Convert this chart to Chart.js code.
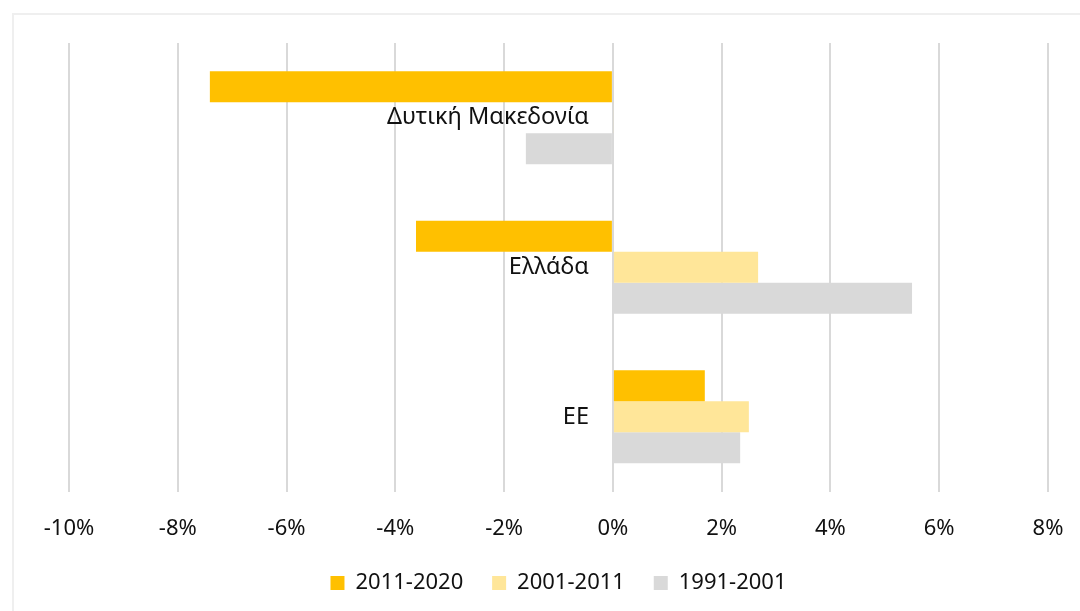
<!DOCTYPE html>
<html>
<head>
<meta charset="utf-8">
<script src="https://cdn.jsdelivr.net/npm/chart.js@4.4.1/dist/chart.umd.min.js"></script>
<style>
  html, body { margin: 0; padding: 0; background: #fff; width: 1080px; height: 611px; overflow: hidden; }
  #frame { position: absolute; left: 12px; top: 13px; width: 1080px; height: 610px; border: 2px solid #efefef; }
  #wrap { position: absolute; left: 0; top: 0; width: 1080px; height: 611px; }
</style>
</head>
<body>
<div id="frame"></div>
<div id="wrap"><canvas id="chartBarView"></canvas></div>
<script>
// regions and periods
const regions = ["Δυτική Μακεδονία", "Ελλάδα", "ΕΕ"];
const periods = ["2011-2020", "2001-2011", "1991-2001"];

// change in % per period
const change2011 = [-7.41, -3.62, 1.69];
const change2001 = [0.02, 2.67, 2.50];
const change1991 = [-1.60, 5.50, 2.34];

const xTicks = [-10, -8, -6, -4, -2, 0, 2, 4, 6, 8];

const colors = ["#FFC000", "#FFE699", "#D9D9D9"];
const font = "'Noto Sans', 'Open Sans', sans-serif";

const data1 = {
  labels: regions,
  datasets: [
    { label: periods[0], data: change2011, backgroundColor: colors[0] },
    { label: periods[1], data: change2001, backgroundColor: colors[1] },
    { label: periods[2], data: change1991, backgroundColor: colors[2] },
  ],
};

const config = {
  type: "bar",
  data: data1,
  options: {
    indexAxis: "y",
    responsive: true,
    maintainAspectRatio: false,
    animation: false,
    datasets: {
      bar: { categoryPercentage: 0.622, barPercentage: 1.0 },
    },
    layout: { padding: { left: 69, right: 32, top: 43, bottom: 7 } },
    scales: {
      x: {
        min: xTicks[0],
        max: xTicks[xTicks.length - 1],
        afterBuildTicks: (scale) => { scale.ticks = xTicks.map((v) => ({ value: v })); },
        // side room comes from layout padding only
        afterFit: (scale) => { scale.paddingLeft = 0; scale.paddingRight = 0; },
        grid: { color: "#d9d9d9", lineWidth: 2, drawTicks: false },
        border: { display: false },
        ticks: {
          padding: 24,
          color: "#111",
          font: { family: font, size: 22 },
          callback: (v) => v + "%",
        },
      },
      y: {
        // labels sit just left of the 0% line
        position: { x: -0.44 },
        grid: { display: false, drawTicks: false },
        border: { display: false },
        ticks: {
          color: "#111",
          font: { family: font, size: 23.5 },
        },
      },
    },
    plugins: {
      tooltip: { enabled: false },
      legend: {
        position: "bottom",
        labels: {
          color: "#111",
          font: { family: font, size: 22 },
          boxWidth: 14,
          boxHeight: 14,
          padding: 6,
          // widen the gap between legend items
          generateLabels: (chart) => {
            const items = Chart.defaults.plugins.legend.labels.generateLabels(chart);
            items.forEach((item, i) => {
              if (i < items.length - 1) item.text += "\u00a0\u00a0\u00a0\u00a0";
            });
            return items;
          },
        },
      },
    },
  },
};

//render the chart
const barChartView = new Chart(document.getElementById("chartBarView"), config);
</script>
</body>
</html>
